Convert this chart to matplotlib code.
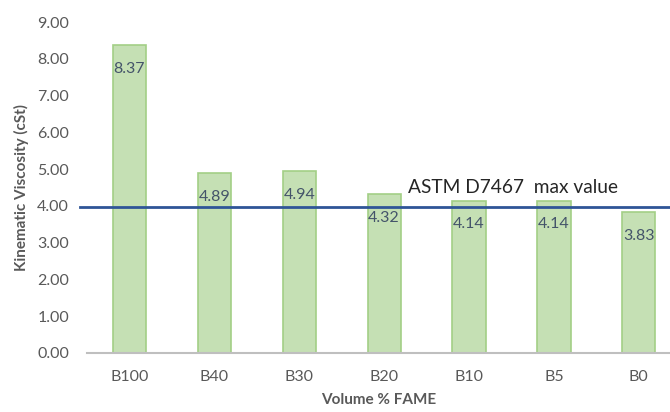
import matplotlib.pyplot as plt

categories = ["B100", "B40", "B30", "B20", "B10", "B5", "B0"]
viscosity = [8.37, 4.89, 4.94, 4.32, 4.14, 4.14, 3.83]
limit_value = 3.97
limit_label = "ASTM D7467  max value"
yticks = [0, 1, 2, 3, 4, 5, 6, 7, 8, 9]

plt.rcParams['font.family'] = ['Lato', 'DejaVu Sans']

fig = plt.figure(figsize=(6.7, 4.12), dpi=100)
ax_left, ax_right = 87, 670
ax = fig.add_axes([ax_left/670, 59/412, (ax_right - ax_left)/670, 331/412])

x = list(range(len(categories)))
ax.bar(x, viscosity, width=0.39, color='#c5e0b4', edgecolor='#a3cf86', linewidth=1.2, zorder=2)

for xi, v in zip(x, viscosity):
    ax.annotate(f"{v:.2f}", (xi, v), xytext=(0, -12), textcoords='offset points',
                ha='center', va='top', fontsize=11.5, color='#44546a', zorder=4)

ax.axhline(limit_value, xmin=(80-ax_left)/(ax_right-ax_left), xmax=1.0, color='#2f5597',
           linewidth=2.0, zorder=3, clip_on=False)
ax.text(3.28, 4.5, limit_label, ha='left', va='center', fontsize=13.8, color='#262626')

ax.set_xlim(-0.5, -0.5 + (ax_right - ax_left) / 84.9)
ax.set_ylim(0, 9)
ax.set_yticks(yticks)
ax.set_yticklabels([f"{t:.2f}" for t in yticks])
ax.set_xticks(x)
ax.set_xticklabels(categories)

for s in ['top', 'right', 'left']:
    ax.spines[s].set_visible(False)
ax.spines['bottom'].set_color('#bfbfbf')
ax.spines['bottom'].set_linewidth(1.5)
ax.tick_params(axis='both', length=0, labelsize=11.5, labelcolor='#595959')
ax.tick_params(axis='y', pad=13)
ax.tick_params(axis='x', pad=12)

ax.set_ylabel("Kinematic Viscosity (cSt)", fontsize=11, fontweight='bold', color='#595959', labelpad=6)
ax.set_xlabel("Volume % FAME", fontsize=11, fontweight='bold', color='#595959', labelpad=7)

fig.savefig("out.png", dpi=100)
